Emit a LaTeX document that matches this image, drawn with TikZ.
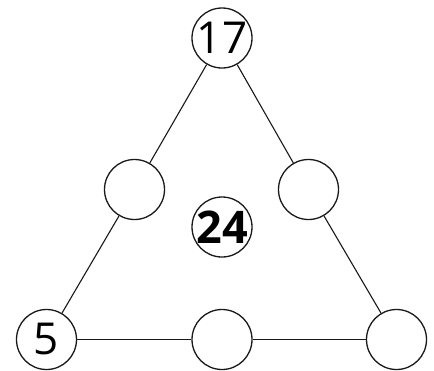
\documentclass[tikz,border=0pt]{standalone}
\usepackage{fontspec}
\setmainfont{Open Sans}
\begin{document}
\begin{tikzpicture}[x=1pt,y=-1pt,
  slot/.style={draw=black!90,line width=1.3pt,circle,minimum size=60pt,inner sep=0pt},
  num/.style={font=\fontsize{44}{46}\selectfont,inner sep=0pt},
  bignum/.style={font=\fontsize{45}{48}\selectfont\bfseries,inner sep=0pt},
  edge/.style={draw=black!90,line width=1.1pt}]
\useasboundingbox (0,0) rectangle (434,370);
\node[slot,label={[num]center:17}] (t) at (222,38) {};
\node[slot] (lm) at (134.5,189.5) {};
\node[slot] (rm) at (308.5,189.5) {};
\node[slot,label={[bignum]center:24}] (c) at (222,227) {};
\node[slot,label={[num]center:5}] (bl) at (46.5,339.5) {};
\node[slot] (bm) at (222,339.5) {};
\node[slot] (br) at (396.5,339.5) {};
\draw[edge] (t) -- (lm);
\draw[edge] (lm) -- (bl);
\draw[edge] (t) -- (rm);
\draw[edge] (rm) -- (br);
\draw[edge] (bl) -- (bm);
\draw[edge] (bm) -- (br);
\end{tikzpicture}
\end{document}
